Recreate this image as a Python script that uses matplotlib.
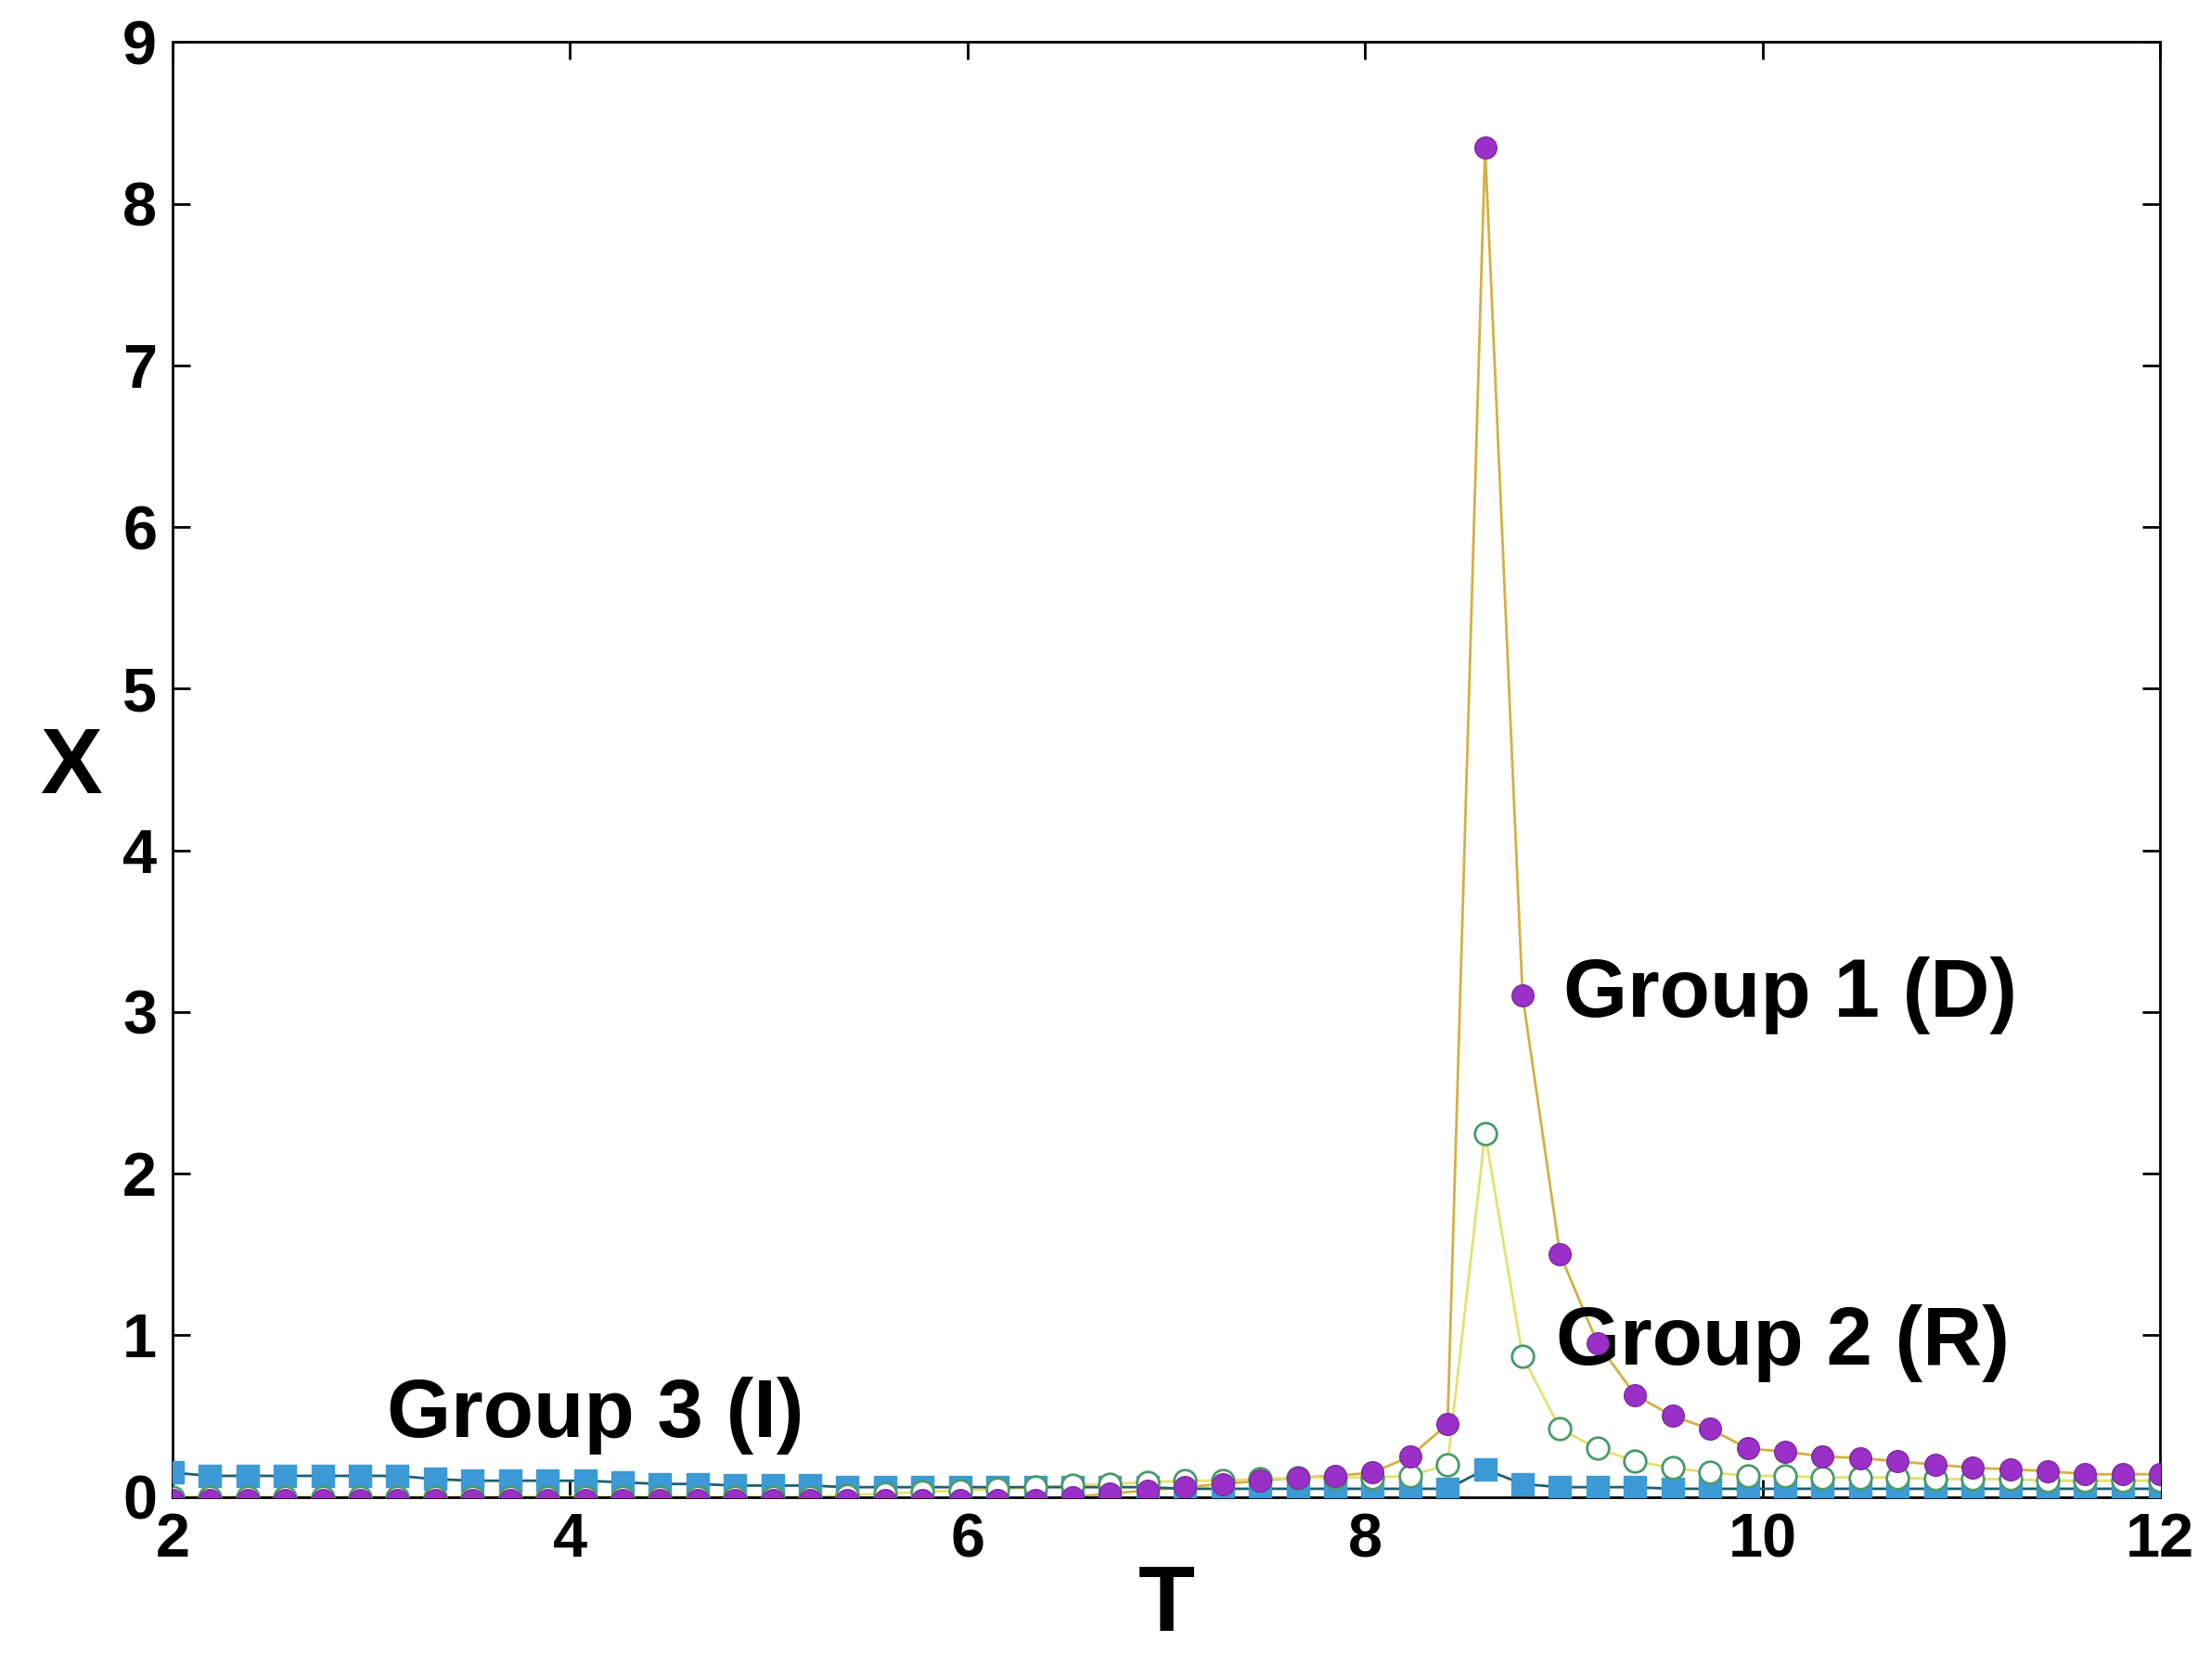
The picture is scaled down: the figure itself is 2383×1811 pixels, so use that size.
import numpy as np
import matplotlib.pyplot as plt

T = np.linspace(2.0, 12.0, 54)

# Group 1 (D)
x_d = [-0.02] * 24 + [0.0, 0.02, 0.04, 0.06, 0.08, 0.10, 0.12, 0.13,
       0.15, 0.25, 0.45, 8.35, 3.10, 1.50, 0.95, 0.63, 0.50, 0.42,
       0.30, 0.28, 0.25, 0.24, 0.22, 0.20, 0.18, 0.17, 0.16, 0.14,
       0.14, 0.14]
# Group 2 (R)
x_r = [0.0] * 18 + [0.01, 0.02, 0.03, 0.04, 0.05, 0.06, 0.07, 0.08,
       0.09, 0.10, 0.10, 0.11, 0.12, 0.12, 0.12, 0.13, 0.20, 2.25,
       0.87, 0.42, 0.30, 0.22, 0.18, 0.15, 0.13, 0.13, 0.12, 0.12,
       0.12, 0.11, 0.11, 0.11, 0.10, 0.10, 0.10, 0.10]
# Group 3 (I)
x_i = [0.15, 0.13, 0.13, 0.13, 0.13, 0.13, 0.13, 0.11, 0.10, 0.10,
       0.10, 0.10, 0.09, 0.08, 0.08, 0.07, 0.07, 0.07, 0.06, 0.06,
       0.06, 0.06, 0.06, 0.06, 0.06, 0.06, 0.06, 0.05, 0.05, 0.05,
       0.05, 0.05, 0.05, 0.05, 0.05, 0.17, 0.08, 0.06, 0.06, 0.06,
       0.05, 0.05, 0.05, 0.05, 0.05, 0.05, 0.05, 0.05, 0.05, 0.05,
       0.05, 0.05, 0.05, 0.05]

plt.rcParams['font.family'] = 'Liberation Sans'
plt.rcParams['font.weight'] = 'bold'

fig = plt.figure(figsize=(23.83, 18.11), dpi=100)
ax = fig.add_axes([0.078, 0.109, 0.899, 0.866])

ax.plot(T, x_d, '-', color='#d4b040', lw=2, zorder=2)
ax.plot(T, x_d, 'o', color='#9b30c8', ms=17, mec='#7a2aa0', zorder=5)
ax.plot(T, x_r, '-', color='#e6e070', lw=2, zorder=2)
ax.plot(T, x_r, 'o', mfc='white', mec='#4a9a6a', mew=2, ms=17, zorder=4)
ax.plot(T, x_i, '-', color='#1f5f6f', lw=2, zorder=2)
ax.plot(T, x_i, 's', color='#3c9ad6', ms=17, zorder=3)

ax.text(9.0, 3.1, 'Group 1 (D)', fontsize=64, va='center', ha='left')
ax.text(8.96, 0.95, 'Group 2 (R)', fontsize=64, va='center', ha='left')
ax.text(3.08, 0.5, 'Group 3 (I)', fontsize=64, va='center', ha='left')

ax.set_xlim(2, 12)
ax.set_ylim(0, 9)
ax.set_xticks([2, 4, 6, 8, 10, 12])
ax.set_yticks(range(10))
ax.tick_params(direction='in', top=True, right=True, length=14, width=2,
               labelsize=48, pad=12)
for s in ax.spines.values():
    s.set_linewidth(2)
ax.set_xlabel('T', fontsize=72, fontweight='bold', labelpad=-5)
ax.set_ylabel('X', fontsize=72, fontweight='bold', rotation=0, labelpad=40,
              va='center')

fig.savefig('out.png', dpi=100)
